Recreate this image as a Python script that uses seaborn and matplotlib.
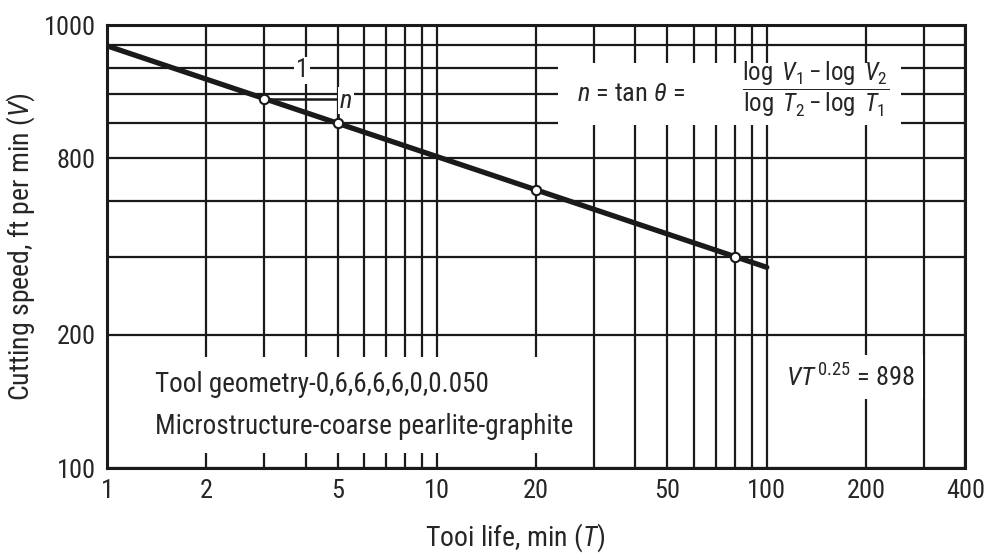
import numpy as np
import seaborn as sns
import matplotlib.pyplot as plt
import pandas as pd
from matplotlib.patches import Rectangle
from matplotlib.ticker import FixedLocator, FixedFormatter, NullFormatter

# Taylor tool life line, VT^0.25 = 898
tool_life = [1, 100]
speed = [898, 284]

# circled test points on the line
pt_life = [3, 5, 20, 80]
pt_speed = [682, 601, 425, 300]

x_major = [1, 2, 5, 10, 20, 50, 100, 200, 400]
x_labels = ['1', '2', '5', '10', '20', '50', '100', '200', '400']
x_minor = [3, 4, 6, 7, 8, 9, 30, 40, 60, 70, 80, 90, 300]

y_major = [100, 200, 500, 1000]
y_labels = ['100', '200', '800', '1000']   # as printed on the original
y_minor = [300, 400, 600, 700, 800, 900]

sns.set_style("ticks")
plt.rcParams['font.family'] = ['Roboto Condensed', 'Roboto', 'DejaVu Sans']
plt.rcParams['mathtext.fontset'] = 'custom'
plt.rcParams['mathtext.rm'] = 'Roboto Condensed'
plt.rcParams['mathtext.it'] = 'Roboto Condensed:italic'

fig = plt.figure(figsize=(9.97, 5.58), dpi=100)
ax = fig.add_axes([0.1073, 0.161, 0.861, 0.794])

df_line = pd.DataFrame({'T': tool_life, 'V': speed})
df_pts = pd.DataFrame({'T': pt_life, 'V': pt_speed})

sns.lineplot(data=df_line, x='T', y='V', ax=ax, color='#1a1a1a', lw=3.8, zorder=4)
sns.scatterplot(data=df_pts, x='T', y='V', ax=ax, s=45, color='white',
                edgecolor='#1a1a1a', linewidth=1.5, zorder=5)

# slope triangle between the T=3 and T=5 points
ax.plot([pt_life[0], pt_life[1], pt_life[1]], [pt_speed[0], pt_speed[0], pt_speed[1]],
        color='#1a1a1a', lw=1.8, zorder=4)

ax.set_xscale('log')
ax.set_yscale('log')
ax.set_xlim(1, 400)
ax.set_ylim(100, 1000)

ax.xaxis.set_major_locator(FixedLocator(x_major))
ax.xaxis.set_major_formatter(FixedFormatter(x_labels))
ax.xaxis.set_minor_locator(FixedLocator(x_minor))
ax.xaxis.set_minor_formatter(NullFormatter())
ax.yaxis.set_major_locator(FixedLocator(y_major))
ax.yaxis.set_major_formatter(FixedFormatter(y_labels))
ax.yaxis.set_minor_locator(FixedLocator(y_minor))
ax.yaxis.set_minor_formatter(NullFormatter())

ax.grid(which='both', color='#1a1a1a', lw=1.6, zorder=1)
ax.tick_params(which='both', length=0, labelsize=19, pad=8)
for s in ax.spines.values():
    s.set_linewidth(2.2)
    s.set_color('#1a1a1a')

ax.set_xlabel('Tooi life, min ($T$)', fontsize=20)
ax.xaxis.set_label_coords(0.476, -0.12)
ax.set_ylabel('Cutting speed, ft per min ($V$)', fontsize=20)
ax.yaxis.set_label_coords(-0.082, 0.5)

# annotations
ax.text(3.9, 790, '1', fontsize=18, ha='center', va='center', zorder=6,
        bbox=dict(facecolor='white', edgecolor='none', pad=1))
ax.text(5.3, 675, '$n$', fontsize=19, ha='center', va='center', zorder=6,
        bbox=dict(facecolor='white', edgecolor='none', pad=1))

# white panel behind the slope formula
ax.add_patch(Rectangle((0.525, 0.775), 0.40, 0.14, transform=ax.transAxes,
                       facecolor='white', edgecolor='none', zorder=3))
ax.text(0.61, 0.845, r'$n$ = tan $\theta$ =', transform=ax.transAxes, fontsize=19,
        ha='center', va='center', zorder=6)
ax.text(0.825, 0.855, r'$\dfrac{\log\ V_1 - \log\ V_2}{\log\ T_2 - \log\ T_1}$',
        transform=ax.transAxes, fontsize=18, ha='center', va='center', zorder=6)

ax.text(0.866, 0.205, r'$VT^{\,0.25}$ = 898', transform=ax.transAxes, fontsize=19,
        ha='center', va='center', zorder=6,
        bbox=dict(facecolor='white', edgecolor='none', pad=6))
ax.text(0.056, 0.142,
        'Tool geometry-0,6,6,6,6,0,0.050\nMicrostructure-coarse pearlite-graphite',
        transform=ax.transAxes, fontsize=19.5, ha='left', va='center', linespacing=1.7,
        zorder=6, bbox=dict(facecolor='white', edgecolor='none', pad=10))

plt.savefig('out.png', dpi=100)
plt.close()
